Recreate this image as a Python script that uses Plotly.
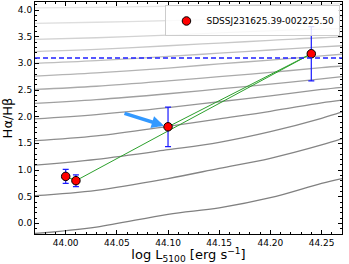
import plotly.graph_objects as go

# ---- data ----
log_l5100 = [44.00, 44.01, 44.10, 44.24]
balmer_dec = [0.88, 0.80, 1.81, 3.18]
balmer_err = [0.13, 0.11, 0.37, 0.51]
path_order = [0, 1, 3, 2]  # order of connecting green line
object_name = "SDSSJ231625.39-002225.50"
ref_ratio = 3.1

arrow_tail = (44.056, 2.07)
arrow_head = (44.096, 1.83)

grid_x = [43.97, 44.03, 44.10, 44.15, 44.20, 44.25, 44.27]
track_c13 = [-0.19, -0.07, 0.17, 0.29, 0.48, 0.75, 0.84]
track_c12 = [0.52, 0.62, 0.84, 1.03, 1.22, 1.47, 1.59]
track_c11 = [1.09, 1.20, 1.38, 1.52, 1.72, 1.97, 2.09]
track_c10 = [1.55, 1.64, 1.82, 1.96, 2.10, 2.26, 2.31]
track_c9 = [1.96, 2.04, 2.17, 2.28, 2.39, 2.51, 2.55]
track_c8 = [2.25, 2.32, 2.43, 2.52, 2.61, 2.71, 2.75]
track_c7 = [2.51, 2.57, 2.67, 2.75, 2.83, 2.92, 2.95]
track_c6 = [2.76, 2.82, 2.91, 2.99, 3.06, 3.14, 3.17]
track_c5 = [3.00, 3.05, 3.13, 3.19, 3.25, 3.31, 3.33]
track_c4 = [3.22, 3.26, 3.33, 3.38, 3.43, 3.48, 3.49]
track_c3 = [3.45, 3.48, 3.53, 3.57, 3.61, 3.64, 3.65]
track_c2 = [3.75, 3.77, 3.80, 3.82, 3.84, 3.86, 3.87]
track_c1 = [4.04, 4.05, 4.07, 4.08, 4.10, 4.11, 4.12]

tracks = [track_c13, track_c12, track_c11, track_c10, track_c9, track_c8, track_c7,
          track_c6, track_c5, track_c4, track_c3, track_c2, track_c1]
track_grays = [128, 132, 136, 142, 150, 160, 170, 180, 190, 200, 210, 222, 232]

x_ticks = [44.00, 44.05, 44.10, 44.15, 44.20, 44.25]
y_ticks = [0.0, 0.5, 1.0, 1.5, 2.0, 2.5, 3.0, 3.5, 4.0]

fig = go.Figure()

for tr, g in zip(tracks, track_grays):
    fig.add_trace(go.Scatter(
        x=grid_x, y=tr, mode="lines", line=dict(color=f"rgb({g},{g},{g})", width=1.3, shape="spline"),
        showlegend=False, hoverinfo="skip"))

fig.add_shape(type="line", xref="paper", x0=0, x1=1, yref="y", y0=ref_ratio, y1=ref_ratio,
              line=dict(color="#1f1fff", width=1.6, dash="5px,3px"))

fig.add_trace(go.Scatter(
    x=[log_l5100[i] for i in path_order], y=[balmer_dec[i] for i in path_order],
    mode="lines", line=dict(color="#2ca02c", width=1), showlegend=False, hoverinfo="skip"))

fig.add_trace(go.Scatter(
    x=log_l5100, y=balmer_dec, mode="markers", name=object_name,
    marker=dict(color="#ff0000", size=8.5, line=dict(color="black", width=1)),
    error_y=dict(type="data", array=balmer_err, color="#1a1aff", thickness=1.2, width=3)))

fig.add_annotation(x=arrow_head[0], y=arrow_head[1], ax=arrow_tail[0], ay=arrow_tail[1],
                   xref="x", yref="y", axref="x", ayref="y", text="", showarrow=True,
                   arrowhead=2, arrowsize=0.7, arrowwidth=3.5, arrowcolor="#3399ff", standoff=0)

axis_common = dict(showline=True, linecolor="black", linewidth=1, mirror="ticks",
                   ticks="inside", ticklen=4, tickcolor="black", showgrid=False, zeroline=False,
                   tickfont=dict(family="DejaVu Sans", size=9, color="black"))

fig.update_xaxes(range=[43.97, 44.27], tickvals=x_ticks, ticktext=[f"{v:.2f}" for v in x_ticks],
                 minor=dict(dtick=0.01, ticks="inside", ticklen=2, tickcolor="black"),
                 title=dict(text="log L<sub>5100</sub> [erg s<sup>−1</sup>]",
                            font=dict(family="DejaVu Sans", size=13, color="black"), standoff=2),
                 **axis_common)
fig.update_yaxes(range=[-0.2, 4.15], tickvals=y_ticks, ticktext=[f"{v:.1f}" for v in y_ticks],
                 minor=dict(dtick=0.1, ticks="inside", ticklen=2, tickcolor="black"),
                 title=dict(text="Hα/Hβ", font=dict(family="DejaVu Sans", size=13, color="black"),
                            standoff=4),
                 **axis_common)

fig.update_layout(
    width=349, height=264, margin=dict(l=35, r=7, t=2, b=30),
    paper_bgcolor="white", plot_bgcolor="white",
    legend=dict(x=0.995, y=0.985, xanchor="right", yanchor="top",
                bgcolor="rgba(255,255,255,0.85)", bordercolor="#cccccc", borderwidth=1,
                font=dict(family="DejaVu Sans", size=9, color="black"),
                itemwidth=30, tracegroupgap=0),
)

fig.write_html("out.html", config={"displayModeBar": False},
               post_script="document.body.style.margin='0';")
